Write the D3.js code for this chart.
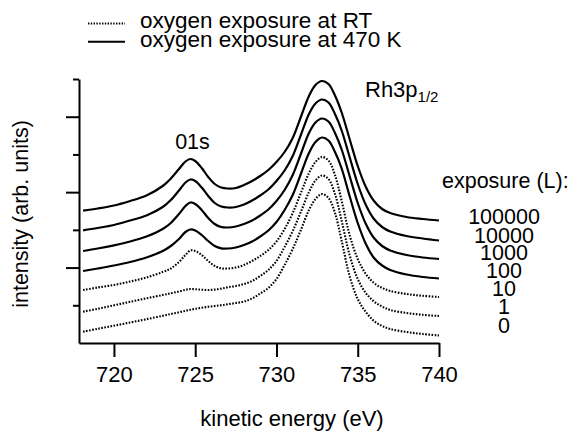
<!DOCTYPE html>
<html><head><meta charset="utf-8">
<script src="https://cdn.jsdelivr.net/npm/d3@7"></script>
<style>
body{margin:0;background:#fff}
svg{display:block}
text{font-family:"Liberation Sans",Arial,Helvetica,sans-serif;fill:#000}
</style>
</head><body>
<svg id="chart" width="570" height="432"></svg>
<script>
// kinetic energy sample points (eV)
const energy = [718.1,719,720,721,722,723,723.5,724,724.4,724.7,725,725.4,725.8,726.2,726.6,727,727.5,728,728.5,729,729.5,730,730.5,731,731.5,732,732.4,732.8,733.2,733.6,734,734.5,735,735.5,736,736.5,737,738,739,740];

// intensities (arb. units, offset spectra as plotted)
const exp100000 = [132.3,134.5,137.5,142,147.5,157,164.5,174,181.5,184,182,175,166,159,155.5,154.5,155,158,162,167,173,181,191,205,226,247,258,262,259,247.5,231,204,177,156,142,134,130,126,124,122.5];
const exp10000  = [112.7,115,118,122.5,127.5,136,143,152.5,160.5,163.5,162,155.5,147,140,136.5,135.5,136,138.5,142.5,147.5,153.5,162,172.5,187,208,229,239.5,243.5,240.5,229,213,186,159,138,124,116,111.5,107,104.5,102.5];
const exp1000   = [92,94.5,97.7,101.5,106.5,114,120,129,137,140.5,139,133,125,119,116,115.5,116.5,119,122.5,127.5,133.5,142,153,168,189,210,220.5,224.5,221.5,210,194,167,140,119,105,97,92.5,88,85.5,84];
const exp100    = [72,74.5,77.5,81,85.5,92,97,104,111,113.5,112.5,108,102,97,94.7,94.5,95.5,98,101.5,106.5,112.5,121,133,148,169,190,201,205.5,202.5,191,175,147,120,99,85,77.5,73,68.5,66,64.5];
const exp10     = [53,55.5,58,61.5,65.5,71,74.5,81,88,92.5,92,88,82,77,74.7,74.5,75.5,78,82,87,93,101.5,114,130,150,170,181,186,182.5,168,143,108,84,69,60,55,52,49,47.2,46];
const exp1      = [31.3,34.2,37.7,41.2,44.7,48,49.7,51.5,53.2,54,53.8,53.3,53,53.4,54.4,55.7,57,59,62,67,73,82,96,112,131,151,162.5,167.5,164,149,123,88,64,50,41.5,36.5,33,30,28.2,27];
const exp0      = [11.3,14.2,17.3,20.5,23.8,27.2,29,30.7,32.2,33.2,34.2,35.2,36.2,37,37.8,38.7,40,41.5,44.5,49.5,55,64,78,94,113,133,144,149,145,130,103,67,44,31,22,17,14,11,9,7.5];

const exposureLabels = ["100000","10000","1000","100","10","1","0"];
const seriesList = [exp100000, exp10000, exp1000, exp100, exp10, exp1, exp0];
const seriesTemp = ["470 K","470 K","470 K","470 K","RT","RT","RT"];
const xTickValues = [720,725,730,735,740];
const legendLabels = ["oxygen exposure at RT","oxygen exposure at 470 K"];

const svg = d3.select("#chart");
const M = {left:79, right:439, top:79, bottom:343};

const x = d3.scaleLinear().domain([717.85, 740]).range([M.left, M.right]);
const y = d3.scaleLinear().domain([0, 264]).range([M.bottom, M.top]);

// series
const line = d3.line().x((d,i)=>x(energy[i])).y(d=>y(d)).curve(d3.curveCatmullRom.alpha(0.5));
seriesList.forEach((s,k)=>{
  const dotted = seriesTemp[k]==="RT";
  svg.append("path").datum(s)
    .attr("d", line)
    .attr("fill","none")
    .attr("stroke","#000")
    .attr("stroke-width", dotted?2.1:2.2)
    .attr("stroke-dasharray", dotted?"1.6,1.5":null)
    .attr("stroke-linejoin","round");
});

// x axis
const xAxis = d3.axisBottom(x).tickValues(xTickValues).tickSize(14).tickSizeOuter(0).tickFormat(d3.format("d"));
const gx = svg.append("g").attr("transform",`translate(0,${M.bottom})`).call(xAxis);
gx.select(".domain").attr("stroke-width",2);
gx.selectAll(".tick line").attr("stroke-width",2);
gx.selectAll(".tick text").attr("y",38.7).attr("dy",null)
  .style("font-size","22px").style("font-family",'"Liberation Sans",Arial,sans-serif');

// y axis (unlabelled ticks, alternating lengths)
const yTicks = d3.range(1,8).map(i=>i*264/7);
const yAxis = d3.axisLeft(y).tickValues(yTicks).tickSize(13).tickSizeOuter(0).tickFormat("");
const gy = svg.append("g").attr("transform",`translate(${M.left},0)`).call(yAxis);
gy.select(".domain").attr("stroke-width",2);
gy.selectAll(".tick line").attr("stroke-width",2)
  .attr("x2",(d,i)=> (i%2===0)? -6 : -13);

// axis titles
svg.append("text").attr("x",292).attr("y",426).attr("text-anchor","middle")
  .style("font-size","22px").text("kinetic energy (eV)");
svg.append("text").attr("transform","translate(28,214) rotate(-90)").attr("text-anchor","middle")
  .style("font-size","21.5px").text("intensity (arb. units)");

// peak labels
svg.append("text").attr("x",192.5).attr("y",148.5).attr("text-anchor","middle")
  .style("font-size","21.5px").text("01s");
const rh = svg.append("text").attr("x",365).attr("y",97).style("font-size","22px");
rh.append("tspan").text("Rh3p");
rh.append("tspan").attr("dy",5).style("font-size","15px").text("1/2");

// exposure labels
svg.append("text").attr("x",442).attr("y",187.5).style("font-size","21.5px").text("exposure (L):");
const labelBase = [224,242.5,260,277.5,295.5,313.5,332.5];
const expText = svg.append("text").attr("text-anchor","middle").style("font-size","21.5px");
exposureLabels.forEach((t,i)=>{
  expText.append("tspan").attr("x",504).attr("y",labelBase[i]).text(t);
});

// legend
const lg = svg.append("g");
legendLabels.forEach((t,i)=>{
  const ly = i===0?23.5:41.7;
  lg.append("line").attr("x1",88).attr("x2",125).attr("y1",ly).attr("y2",ly)
    .attr("stroke","#000").attr("stroke-width", i===0?1.8:2)
    .attr("stroke-dasharray", i===0?"1.4,1.4":null);
  lg.append("text").attr("x",140).attr("y",i===0?27.5:47).style("font-size","22.5px").text(t);
});
</script>
</body></html>
